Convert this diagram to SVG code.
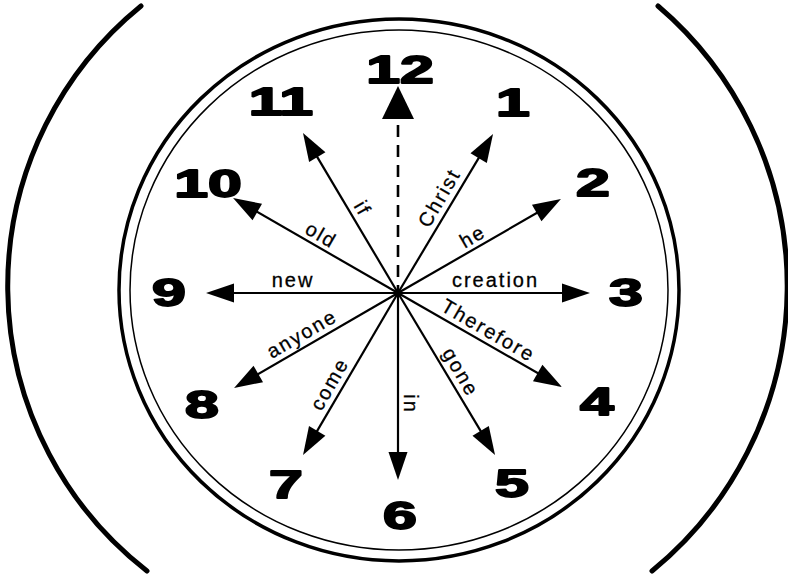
<svg xmlns="http://www.w3.org/2000/svg" width="788" height="577" viewBox="0 0 788 577">
<style>
.bg{fill:#fff}
.paren{fill:none;stroke:#000;stroke-width:5;stroke-linecap:round}
.rim{fill:none;stroke:#000}
.ray{stroke:#000;stroke-width:2.2;fill:none;marker-end:url(#head)}
.dash{stroke:#000;stroke-width:2.6;stroke-dasharray:12 8;fill:none}
.lbl{font-family:"Liberation Sans",Arial,sans-serif;font-size:20px;letter-spacing:2px;text-anchor:middle;fill:#000;stroke:#000;stroke-width:0.3}
.num{font-family:"Liberation Sans",Arial,sans-serif;font-size:38px;font-weight:bold;text-anchor:middle;fill:#000;stroke:#000;stroke-width:1.8;stroke-linejoin:round}
</style>
<defs>
<marker id="head" markerUnits="userSpaceOnUse" markerWidth="30" markerHeight="20" refX="18" refY="9.5" orient="auto" overflow="visible">
<path d="M0,0 L28,9.5 L0,19 Z" fill="#000"/>
</marker>
</defs>
<rect class="bg" x="0" y="0" width="788" height="577"/>
<g id="parens">
<path class="paren" d="M141,6 A361,361 0 0 0 147,571"/>
<path class="paren" d="M658,6 A368,368 0 0 1 652,571"/>
</g>
<g id="clock-face">
<ellipse class="rim" cx="399" cy="290" rx="280" ry="271" stroke-width="3.5"/>
<ellipse class="rim" cx="399" cy="290" rx="269" ry="260" stroke-width="1.5"/>
</g>
<g id="connectors">
<path class="dash" d="M398,125 L398,293"/>
<polygon points="398,86 414,119 382,119" fill="#000"/>
<line class="ray" x1="398" y1="293" x2="487.9" y2="142.6"/>
<line class="ray" x1="398" y1="293" x2="552.3" y2="204"/>
<line class="ray" x1="398" y1="293" x2="580" y2="293"/>
<line class="ray" x1="398" y1="293" x2="553.3" y2="382"/>
<line class="ray" x1="398" y1="293" x2="489.9" y2="446.4"/>
<line class="ray" x1="398" y1="293" x2="398" y2="470"/>
<line class="ray" x1="398" y1="293" x2="308.1" y2="446.4"/>
<line class="ray" x1="398" y1="293" x2="242.7" y2="383"/>
<line class="ray" x1="398" y1="293" x2="216" y2="293"/>
<line class="ray" x1="398" y1="293" x2="241.7" y2="203"/>
<line class="ray" x1="398" y1="293" x2="308.1" y2="141.6"/>
<circle cx="398" cy="293" r="3.5" fill="#000"/>
</g>
<g id="labels">
<text class="lbl" transform="translate(449.5,203.8) rotate(-60)" y="-5">Christ</text>
<text class="lbl" transform="translate(478.5,246.5) rotate(-30)" y="-5">he</text>
<text class="lbl" transform="translate(495.5,293)" y="-6">creation</text>
<text class="lbl" transform="translate(482,341.5) rotate(30)" y="-6">Therefore</text>
<text class="lbl" transform="translate(448,379.6) rotate(60)" y="-8">gone</text>
<text class="lbl" transform="translate(398,404) rotate(90)" y="-6">in</text>
<text class="lbl" transform="translate(341.5,390.9) rotate(-60)" y="-7">come</text>
<text class="lbl" transform="translate(308.3,344.8) rotate(-30)" y="-6">anyone</text>
<text class="lbl" transform="translate(293,293)" y="-6">new</text>
<text class="lbl" transform="translate(315.3,245.3) rotate(30)" y="-5">old</text>
<text class="lbl" transform="translate(352.5,214.2) rotate(60)" y="-5">if</text>
</g>
<g id="n12"><text class="num" transform="translate(400,83) scale(1.6,1)">12</text></g>
<g id="n1"><text class="num" transform="translate(513,116) scale(1.6,1)">1</text></g>
<g id="n2"><text class="num" transform="translate(593,196) scale(1.6,1)">2</text></g>
<g id="n3"><text class="num" transform="translate(626,306) scale(1.6,1)">3</text></g>
<g id="n4"><text class="num" transform="translate(597,415) scale(1.6,1)">4</text></g>
<g id="n5"><text class="num" transform="translate(512,497) scale(1.6,1)">5</text></g>
<g id="n6"><text class="num" transform="translate(400,529) scale(1.6,1)">6</text></g>
<g id="n7"><text class="num" transform="translate(286,498) scale(1.6,1)">7</text></g>
<g id="n8"><text class="num" transform="translate(202,418) scale(1.6,1)">8</text></g>
<g id="n9"><text class="num" transform="translate(169,306) scale(1.6,1)">9</text></g>
<g id="n10"><text class="num" transform="translate(208,197) scale(1.6,1)">10</text></g>
<g id="n11"><text class="num" transform="translate(281,115) scale(1.6,1)">11</text></g>
</svg>
